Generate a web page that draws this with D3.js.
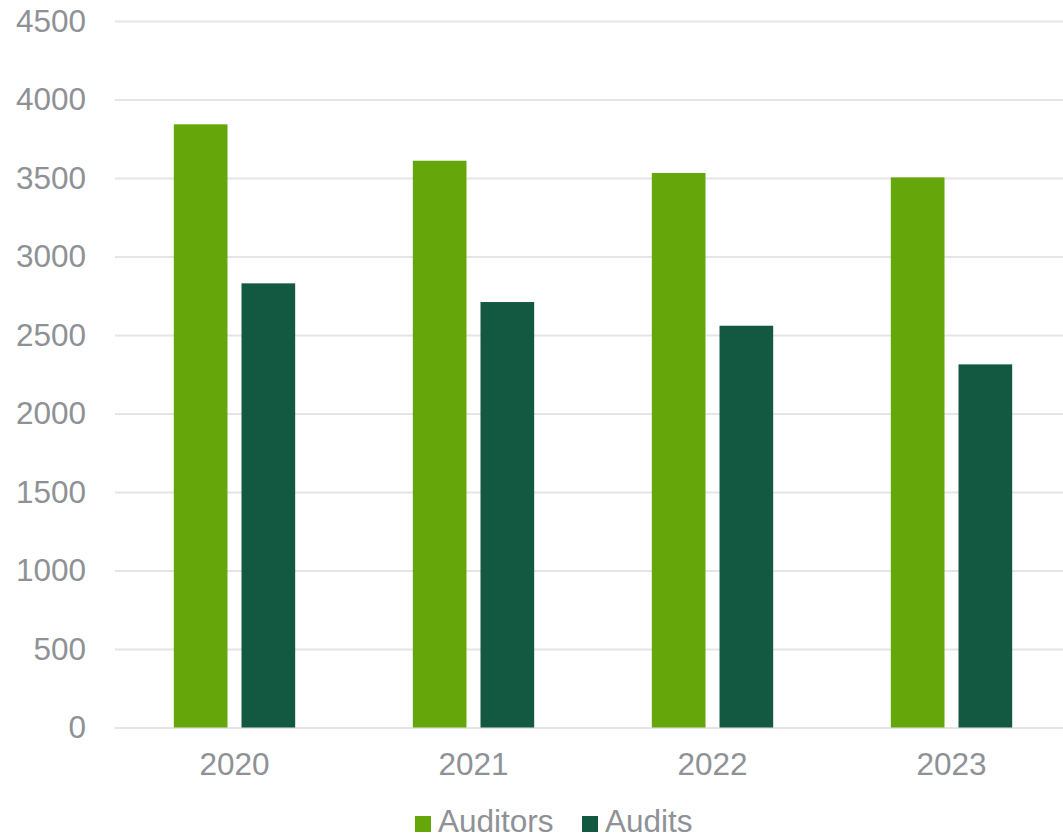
<!DOCTYPE html>
<html>
<head>
<meta charset="utf-8">
<script src="https://cdn.jsdelivr.net/npm/d3@7"></script>
<style>
  body { margin: 0; background: #fff; }
  svg { display: block; font-family: "Liberation Sans", Arial, sans-serif; }
</style>
</head>
<body>
<svg id="graphique" width="1063" height="839"></svg>
<script>
// data
var annees = ["2020", "2021", "2022", "2023"];
var auditors = [3842, 3610, 3532, 3504];
var audits = [2829, 2710, 2559, 2313];
var series = ["Auditors", "Audits"];
var couleurs = ["#65a70b", "#135941"];
var yTicks = [0, 500, 1000, 1500, 2000, 2500, 3000, 3500, 4000, 4500];

var WIDTH = 1063;
var HEIGHT = 839;
var MARGINS = { top: 21, right: -8, bottom: 111.5, left: 115 };
var texte = "#8e9196";
var taillePolice = 31.5;

var graphique = d3.select("#graphique");

var xScale = d3.scaleBand()
	.domain(annees)
	.range([MARGINS.left, WIDTH - MARGINS.right]);

var xInner = d3.scaleBand()
	.domain(series)
	.range([0, xScale.bandwidth()])
	.paddingInner(0.207)
	.paddingOuter(0.869);

var yScale = d3.scaleLinear()
	.domain([0, 4500])
	.range([HEIGHT - MARGINS.bottom, MARGINS.top]);

// lignes horizontales
var yAxis = d3.axisLeft(yScale)
	.tickValues(yTicks)
	.tickSize(-(WIDTH - MARGINS.left))
	.tickPadding(29)
	.tickFormat(d3.format("d"));

var gy = graphique.append("g")
	.attr("transform", "translate(" + MARGINS.left + ",0)")
	.call(yAxis);
gy.select(".domain").remove();
gy.selectAll(".tick line").attr("stroke", "#e5e5e5").attr("stroke-width", 2);
gy.selectAll(".tick text")
	.attr("fill", texte)
	.attr("font-size", taillePolice)
	.attr("font-family", "Liberation Sans, Arial, sans-serif");

// barres
var donnees = [auditors, audits];
series.forEach(function(s, k){
	graphique.append("g")
		.selectAll("rect")
		.data(annees)
		.enter()
		.append("rect")
		.attr("x", function(d){ return xScale(d) + xInner(s); })
		.attr("y", function(d, i){ return yScale(donnees[k][i]); })
		.attr("width", xInner.bandwidth())
		.attr("height", function(d, i){ return yScale(0) - yScale(donnees[k][i]); })
		.attr("fill", couleurs[k]);
});

// axe x
var xAxis = d3.axisBottom(xScale).tickSize(0).tickPadding(25);
var gx = graphique.append("g")
	.attr("transform", "translate(0," + yScale(0) + ")")
	.call(xAxis);
gx.select(".domain").remove();
gx.selectAll(".tick text")
	.attr("fill", texte)
	.attr("font-size", taillePolice)
	.attr("font-family", "Liberation Sans, Arial, sans-serif");

// legende (remontee un peu pour ne pas couper le texte)
var legendeX = [415, 582];
var legende = graphique.append("g");
series.forEach(function(s, k){
	legende.append("rect")
		.attr("x", legendeX[k])
		.attr("y", 816)
		.attr("width", 16)
		.attr("height", 16)
		.attr("fill", couleurs[k]);
	legende.append("text")
		.attr("x", legendeX[k] + 23)
		.attr("y", 832)
		.attr("fill", texte)
		.attr("font-size", taillePolice)
		.text(s);
});
</script>
</body>
</html>
